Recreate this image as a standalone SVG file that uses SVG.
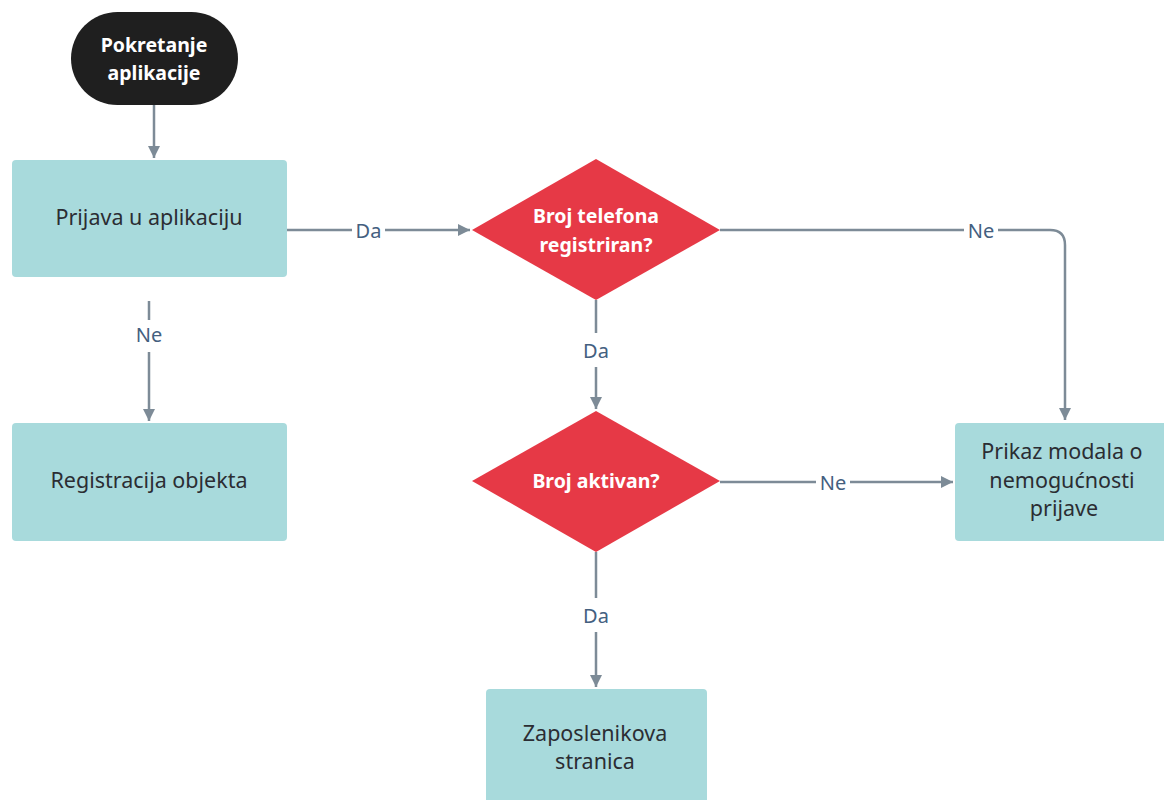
<svg xmlns="http://www.w3.org/2000/svg" width="1164" height="800" viewBox="0 0 1164 800">
<style>
.box{fill:#a8dadc;}
.dia{fill:#e63946;}
.txt{font-family:"Noto Sans","Open Sans",sans-serif;font-size:21.5px;fill:#2b2d33;text-anchor:middle;}
.wtxt{font-family:"Noto Sans","Open Sans",sans-serif;font-size:19.5px;font-weight:bold;fill:#ffffff;text-anchor:middle;}
.lbl{font-family:"Noto Sans","Open Sans",sans-serif;font-size:20px;fill:#44607f;text-anchor:middle;}
.ln{fill:none;stroke:#7d8b97;stroke-width:2.5;}
</style>
<defs>
<marker id="ah" viewBox="0 0 10 10" refX="10" refY="5" markerWidth="5" markerHeight="5" orient="auto" markerUnits="strokeWidth">
<path d="M0,0 L10,5 L0,10 Z" fill="#7d8b97"/>
</marker>
</defs>
<rect width="1164" height="800" fill="#ffffff"/>
<g id="connectors">
<path class="ln" d="M154,105 V158" marker-end="url(#ah)"/>
<path class="ln" d="M287,230 H352 M385,230 H470" marker-end="url(#ah)"/>
<text class="lbl" x="368.5" y="238">Da</text>
<path class="ln" d="M720,230 H964 M998,230 H1050 Q1065,230 1065,245 V420" marker-end="url(#ah)"/>
<text class="lbl" x="981" y="238">Ne</text>
<path class="ln" d="M149,301 V320 M149,352 V421" marker-end="url(#ah)"/>
<text class="lbl" x="149" y="342">Ne</text>
<path class="ln" d="M596,300 V333 M596,367 V409" marker-end="url(#ah)"/>
<text class="lbl" x="596" y="358">Da</text>
<path class="ln" d="M720,482 H816 M850,482 H953" marker-end="url(#ah)"/>
<text class="lbl" x="833" y="490">Ne</text>
<path class="ln" d="M596,552 V598 M596,632 V687" marker-end="url(#ah)"/>
<text class="lbl" x="596" y="623">Da</text>
</g>
<g id="start">
<rect x="71" y="12" width="167" height="93" rx="46.5" fill="#1f1f1f"/>
<text class="wtxt" x="154" y="52">Pokretanje</text>
<text class="wtxt" x="154" y="80">aplikacije</text>
</g>
<g id="prijava">
<rect class="box" x="12" y="160" width="275" height="117" rx="4"/>
<text class="txt" x="149" y="225">Prijava u aplikaciju</text>
</g>
<g id="registracija">
<rect class="box" x="12" y="423" width="275" height="118" rx="4"/>
<text class="txt" x="149" y="488">Registracija objekta</text>
</g>
<g id="broj-telefona">
<polygon class="dia" points="596,159 720,230 596,300 472,230"/>
<text class="wtxt" x="596" y="223">Broj telefona</text>
<text class="wtxt" x="596" y="252">registriran?</text>
</g>
<g id="broj-aktivan">
<polygon class="dia" points="596,411 720,481 596,552 472,481"/>
<text class="wtxt" x="596" y="488">Broj aktivan?</text>
</g>
<g id="prikaz-modala">
<rect class="box" x="955" y="423" width="215" height="118" rx="4"/>
<text class="txt" x="1062" y="459">Prikaz modala o</text>
<text class="txt" x="1062" y="488">nemogućnosti</text>
<text class="txt" x="1064" y="516">prijave</text>
</g>
<g id="zaposlenikova">
<rect class="box" x="486" y="689" width="221" height="120" rx="4"/>
<text class="txt" x="595" y="741">Zaposlenikova</text>
<text class="txt" x="595" y="769">stranica</text>
</g>
</svg>
